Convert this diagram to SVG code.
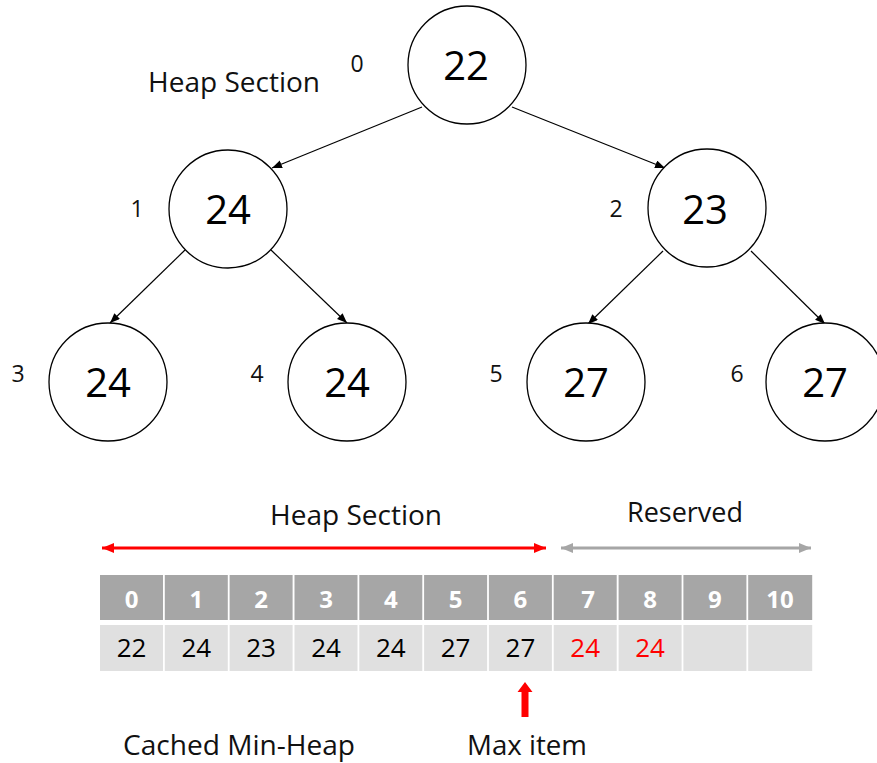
<svg xmlns="http://www.w3.org/2000/svg" width="877" height="763" viewBox="0 0 877 763">
  <style>
    text { font-family: "Open Sans", "Noto Sans", "Liberation Sans", sans-serif; }
    .node circle { fill: #ffffff; stroke: #000000; stroke-width: 1.3; }
    .val { font-size: 40px; fill: #000000; text-anchor: middle; }
    .idx { font-size: 23px; fill: #111111; text-anchor: middle; }
    .edge { stroke: #000000; stroke-width: 1.2; fill: none; marker-end: url(#tip); }
    .label { font-size: 27px; fill: #111111; text-anchor: middle; }
    .hd { fill: #a6a6a6; }
    .dt { fill: #e0e0e0; }
    .hdt { font-size: 24px; font-weight: bold; fill: #ffffff; text-anchor: middle; }
    .dtt { font-size: 26px; fill: #000000; text-anchor: middle; }
    .red { fill: #ff0000; }
  </style>
  <defs>
    <marker id="tip" markerUnits="userSpaceOnUse" markerWidth="11" markerHeight="9" refX="10" refY="4" orient="auto">
      <path d="M0,0 L10,4 L0,8 z" fill="#000000"/>
    </marker>
    <marker id="redHead" markerUnits="userSpaceOnUse" markerWidth="13" markerHeight="11" refX="12" refY="5" orient="auto-start-reverse">
      <path d="M0,0 L12,5 L0,10 z" fill="#ff0000"/>
    </marker>
    <marker id="grayHead" markerUnits="userSpaceOnUse" markerWidth="13" markerHeight="11" refX="12" refY="5" orient="auto-start-reverse">
      <path d="M0,0 L12,5 L0,10 z" fill="#a6a6a6"/>
    </marker>
  </defs>

  <rect width="877" height="763" fill="#ffffff"/>

  <!-- tree edges -->
  <g id="connectors">
    <line class="edge" x1="422" y1="107" x2="272" y2="168"/>
    <line class="edge" x1="512" y1="107" x2="665" y2="168"/>
    <line class="edge" x1="185" y1="250" x2="110" y2="323"/>
    <line class="edge" x1="271" y1="250" x2="347" y2="323"/>
    <line class="edge" x1="663" y1="251" x2="588" y2="324"/>
    <line class="edge" x1="751" y1="251" x2="825" y2="324"/>
  </g>

  <!-- tree nodes -->
  <g id="node0" class="node">
    <circle cx="467" cy="65" r="59"/>
    <text class="val" x="466" y="80">22</text>
    <text class="idx" x="357" y="72">0</text>
  </g>
  <g id="node1" class="node">
    <circle cx="228" cy="209" r="59"/>
    <text class="val" x="228" y="224">24</text>
    <text class="idx" x="137" y="217">1</text>
  </g>
  <g id="node2" class="node">
    <circle cx="707" cy="208" r="59"/>
    <text class="val" x="705" y="224">23</text>
    <text class="idx" x="616" y="217">2</text>
  </g>
  <g id="node3" class="node">
    <circle cx="108" cy="382" r="59"/>
    <text class="val" x="108" y="397">24</text>
    <text class="idx" x="18" y="382">3</text>
  </g>
  <g id="node4" class="node">
    <circle cx="347" cy="382" r="59"/>
    <text class="val" x="347" y="397">24</text>
    <text class="idx" x="257" y="382">4</text>
  </g>
  <g id="node5" class="node">
    <circle cx="586" cy="382" r="59"/>
    <text class="val" x="586" y="397">27</text>
    <text class="idx" x="496" y="382">5</text>
  </g>
  <g id="node6" class="node">
    <circle cx="825" cy="382" r="59"/>
    <text class="val" x="825" y="397">27</text>
    <text class="idx" x="737" y="382">6</text>
  </g>

  <text class="label" x="234" y="92" textLength="172" lengthAdjust="spacingAndGlyphs">Heap Section</text>

  <!-- array section ranges -->
  <g id="ranges">
    <text class="label" x="356" y="525" textLength="172" lengthAdjust="spacingAndGlyphs">Heap Section</text>
    <line x1="102" y1="548" x2="546" y2="548" stroke="#ff0000" stroke-width="3" marker-start="url(#redHead)" marker-end="url(#redHead)"/>
    <text class="label" x="685" y="522" textLength="116" lengthAdjust="spacingAndGlyphs">Reserved</text>
    <line x1="561" y1="548" x2="811" y2="548" stroke="#a6a6a6" stroke-width="3" marker-start="url(#grayHead)" marker-end="url(#grayHead)"/>
  </g>

  <!-- array cells -->
  <g id="array">
    <rect class="hd" x="100" y="575" width="63" height="45"/>
    <rect class="hd" x="164.8" y="575" width="63" height="45"/>
    <rect class="hd" x="229.6" y="575" width="63" height="45"/>
    <rect class="hd" x="294.5" y="575" width="63" height="45"/>
    <rect class="hd" x="359.3" y="575" width="63" height="45"/>
    <rect class="hd" x="424.1" y="575" width="63" height="45"/>
    <rect class="hd" x="488.9" y="575" width="63" height="45"/>
    <rect class="hd" x="553.7" y="575" width="63" height="45"/>
    <rect class="hd" x="618.6" y="575" width="63" height="45"/>
    <rect class="hd" x="683.4" y="575" width="63" height="45"/>
    <rect class="hd" x="748.2" y="575" width="64" height="45"/>

    <rect class="dt" x="100" y="625" width="63" height="46"/>
    <rect class="dt" x="164.8" y="625" width="63" height="46"/>
    <rect class="dt" x="229.6" y="625" width="63" height="46"/>
    <rect class="dt" x="294.5" y="625" width="63" height="46"/>
    <rect class="dt" x="359.3" y="625" width="63" height="46"/>
    <rect class="dt" x="424.1" y="625" width="63" height="46"/>
    <rect class="dt" x="488.9" y="625" width="63" height="46"/>
    <rect class="dt" x="553.7" y="625" width="63" height="46"/>
    <rect class="dt" x="618.6" y="625" width="63" height="46"/>
    <rect class="dt" x="683.4" y="625" width="63" height="46"/>
    <rect class="dt" x="748.2" y="625" width="64" height="46"/>

    <text class="hdt" x="131.5" y="608">0</text>
    <text class="hdt" x="196.3" y="608">1</text>
    <text class="hdt" x="261.1" y="608">2</text>
    <text class="hdt" x="326" y="608">3</text>
    <text class="hdt" x="390.8" y="608">4</text>
    <text class="hdt" x="455.6" y="608">5</text>
    <text class="hdt" x="520.4" y="608">6</text>
    <text class="hdt" x="588" y="608">7</text>
    <text class="hdt" x="650" y="608">8</text>
    <text class="hdt" x="714.9" y="608">9</text>
    <text class="hdt" x="780" y="608">10</text>

    <text class="dtt" x="131.5" y="657">22</text>
    <text class="dtt" x="196.3" y="657">24</text>
    <text class="dtt" x="261.1" y="657">23</text>
    <text class="dtt" x="326" y="657">24</text>
    <text class="dtt" x="390.8" y="657">24</text>
    <text class="dtt" x="455.6" y="657">27</text>
    <text class="dtt" x="520.4" y="657">27</text>
    <text class="dtt red" x="585.2" y="657">24</text>
    <text class="dtt red" x="650" y="657">24</text>
  </g>

  <!-- max item pointer -->
  <path id="maxArrow" d="M525,682 L532.5,692 L528.5,692 L528.5,717 L521.5,717 L521.5,692 L517.5,692 z" fill="#ff0000"/>

  <text class="label" x="239" y="755" textLength="232" lengthAdjust="spacingAndGlyphs">Cached Min-Heap</text>
  <text class="label" x="527" y="755" textLength="120" lengthAdjust="spacingAndGlyphs">Max item</text>
</svg>
